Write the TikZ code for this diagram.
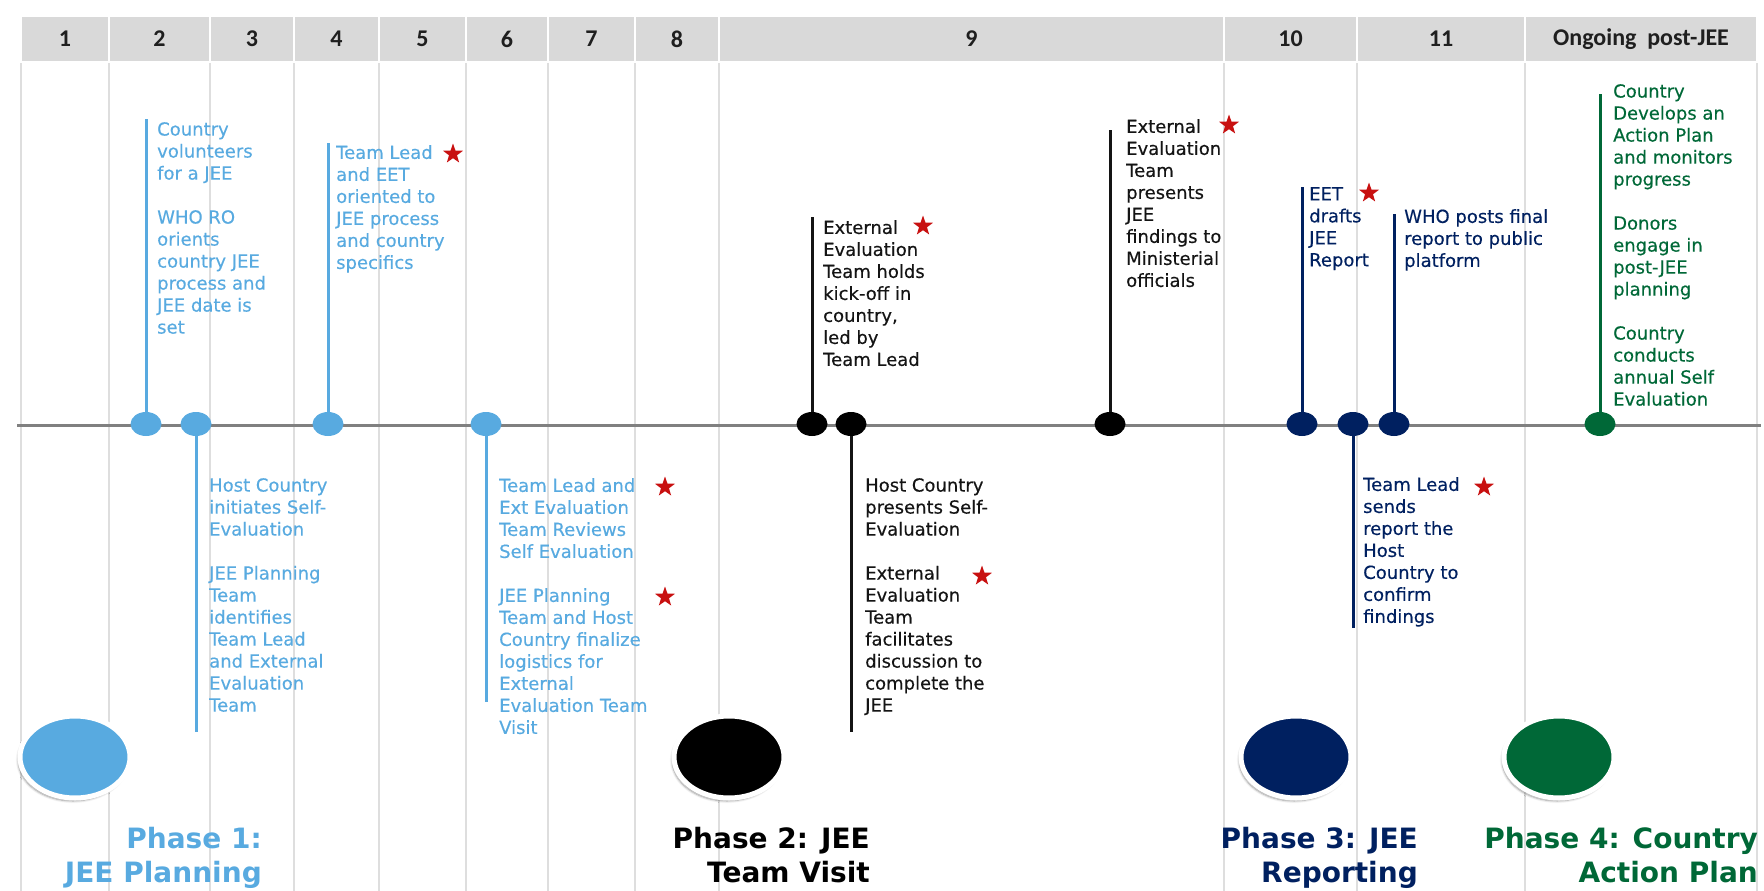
\documentclass[tikz,border=0pt]{standalone}
\usepackage{fontspec}
\setmainfont{DejaVu Sans}
\newfontfamily\hdrfont{Carlito}
\newfontfamily\notefont[FakeBold=0.35]{DejaVu Sans}
\usetikzlibrary{shapes.geometric,shadows.blur}

\definecolor{jeeLight}{RGB}{88,170,224}
\definecolor{jeeNavy}{RGB}{0,32,96}
\definecolor{jeeGreen}{RGB}{0,104,55}
\definecolor{jeeRed}{RGB}{200,16,16}
\definecolor{hdrfill}{RGB}{217,217,217}
\definecolor{gridline}{RGB}{222,222,222}
\definecolor{axisgray}{RGB}{128,128,128}
\definecolor{inkblack}{RGB}{20,20,20}

\begin{document}
\begin{tikzpicture}[x=1pt,y=-1pt,
  hdr/.style={fill=hdrfill, draw=white, line width=1.5pt, minimum height=46pt,
    inner sep=0pt, font=\hdrfont\bfseries\fontsize{24}{28}\selectfont, text=black!88},
  gridrule/.style={draw=gridline, line width=2pt},
  axisline/.style={draw=axisgray, line width=3pt},
  dot/.style={ellipse, minimum width=31pt, minimum height=24pt, inner sep=0pt, fill=#1},
  stem/.style={draw=#1, line width=3pt},
  note/.style={anchor=north west, inner sep=0pt, align=left, text=#1,
    font=\notefont\fontsize{18}{22}\selectfont},
  starmark/.style={star, star points=5, star point ratio=2.5, fill=jeeRed,
    inner sep=0pt, minimum size=21pt},
  phasedisc/.style={ellipse, minimum width=110pt, minimum height=82pt, fill=#1,
    draw=white, line width=5pt,
    blur shadow={shadow xshift=-2pt, shadow yshift=-3pt, shadow blur steps=6, shadow opacity=40}},
  phase/.style={anchor=north east, inner sep=0pt, align=right, text=#1,
    font=\bfseries\fontsize{28}{34}\selectfont},
]
\useasboundingbox (0,0) rectangle (1764,891);

% column rules of the calendar grid
\foreach \gx in {21,109,210,294,379,466,548,635,719,1224,1357,1525,1757}
  \draw[gridrule] (\gx,62) -- (\gx,891);

% header cells (weeks)
\node[hdr, minimum width=88pt]  (h1)  at (65,39)    {1};
\node[hdr, minimum width=101pt] (h2)  at (159.5,39) {2};
\node[hdr, minimum width=84pt]  (h3)  at (252,39)   {3};
\node[hdr, minimum width=85pt]  (h4)  at (336.5,39) {4};
\node[hdr, minimum width=87pt]  (h5)  at (422.5,39) {5};
\node[hdr, minimum width=82pt]  (h6)  at (507,39)   {6};
\node[hdr, minimum width=87pt]  (h7)  at (591.5,39) {7};
\node[hdr, minimum width=84pt]  (h8)  at (677,39)   {8};
\node[hdr, minimum width=505pt] (h9)  at (971.5,39) {9};
\node[hdr, minimum width=133pt] (h10) at (1290.5,39) {10};
\node[hdr, minimum width=168pt] (h11) at (1441,39)  {11};
\node[hdr, minimum width=232pt] (h12) at (1641,39)  {Ongoing\ \ post-JEE};

% timeline axis
\coordinate (tlA) at (17,425);
\coordinate (tlB) at (1761,425);
\draw[axisline] (tlA) -- (tlB);

% milestones on the axis
\node[dot=jeeLight] (d1)  at (146,424)  {};
\node[dot=jeeLight] (d2)  at (196,424)  {};
\node[dot=jeeLight] (d3)  at (328,424)  {};
\node[dot=jeeLight] (d4)  at (486,424)  {};
\node[dot=black]    (d5)  at (812,424)  {};
\node[dot=black]    (d6)  at (851,424)  {};
\node[dot=black]    (d7)  at (1110,424) {};
\node[dot=jeeNavy]  (d8)  at (1302,424) {};
\node[dot=jeeNavy]  (d9)  at (1353,424) {};
\node[dot=jeeNavy]  (d10) at (1394,424) {};
\node[dot=jeeGreen] (d11) at (1600,424) {};

% stem ends
\coordinate (s1)  at (146,119);
\coordinate (s2)  at (196,732);
\coordinate (s3)  at (328,143);
\coordinate (s4)  at (486,702);
\coordinate (s5)  at (812,217);
\coordinate (s6)  at (851,732);
\coordinate (s7)  at (1110,130);
\coordinate (s8)  at (1302,187);
\coordinate (s9)  at (1353,628);
\coordinate (s10) at (1394,214);
\coordinate (s11) at (1600,94);

\draw[stem=jeeLight] (d1) -- (s1);
\draw[stem=jeeLight] (d2) -- (s2);
\draw[stem=jeeLight] (d3) -- (s3);
\draw[stem=jeeLight] (d4) -- (s4);
\draw[stem=inkblack] (d5) -- (s5);
\draw[stem=inkblack] (d6) -- (s6);
\draw[stem=inkblack] (d7) -- (s7);
\draw[stem=jeeNavy]  (d8) -- (s8);
\draw[stem=jeeNavy]  (d9) -- (s9);
\draw[stem=jeeNavy]  (d10) -- (s10);
\draw[stem=jeeGreen] (d11) -- (s11);

% milestone descriptions
\node[note=jeeLight] (n1) at (157,122) {Country\\volunteers\\for a JEE\\[22pt]WHO RO\\orients\\country JEE\\process and\\JEE date is\\set};
\node[note=jeeLight] (n2) at (209,478) {Host Country\\initiates Self-\\Evaluation\\[22pt]JEE Planning\\Team\\identifies\\Team Lead\\and External\\Evaluation\\Team};
\node[note=jeeLight] (n3) at (336,145) {Team Lead\\and EET\\oriented to\\JEE process\\and country\\specifics};
\node[note=jeeLight] (n4) at (499,478) {Team Lead and\\Ext Evaluation\\Team Reviews\\Self Evaluation\\[22pt]JEE Planning\\Team and Host\\Country finalize\\logistics for\\External\\Evaluation Team\\Visit};
\node[note=inkblack] (n5) at (823,220) {External\\Evaluation\\Team holds\\kick-off in\\country,\\led by\\Team Lead};
\node[note=inkblack] (n6) at (865,478) {Host Country\\presents Self-\\Evaluation\\[22pt]External\\Evaluation\\Team\\facilitates\\discussion to\\complete the\\JEE};
\node[note=inkblack] (n7) at (1126,119) {External\\Evaluation\\Team\\presents\\JEE\\findings to\\Ministerial\\officials};
\node[note=jeeNavy] (n8) at (1309,187) {EET\\drafts\\JEE\\Report};
\node[note=jeeNavy] (n9) at (1363,477) {Team Lead\\sends\\report the\\Host\\Country to\\confirm\\findings};
\node[note=jeeNavy] (n10) at (1404,209) {WHO posts final\\report to public\\platform};
\node[note=jeeGreen] (n11) at (1613,84) {Country\\Develops an\\Action Plan\\and monitors\\progress\\[22pt]Donors\\engage in\\post-JEE\\planning\\[22pt]Country\\conducts\\annual Self\\Evaluation};

% red stars
\node[starmark] (st1) at (453,154)  {};
\node[starmark] (st2) at (665,487)  {};
\node[starmark] (st3) at (665,597)  {};
\node[starmark] (st4) at (923,226)  {};
\node[starmark] (st5) at (982,576)  {};
\node[starmark] (st6) at (1229,125) {};
\node[starmark] (st7) at (1369,193) {};
\node[starmark] (st8) at (1484,487) {};

% phase discs and titles
\node[phasedisc=jeeLight] (p1) at (75,757)   {};
\node[phasedisc=black]    (p2) at (729,757)  {};
\node[phasedisc=jeeNavy]  (p3) at (1296,757) {};
\node[phasedisc=jeeGreen] (p4) at (1559,757) {};

\node[phase=jeeLight] (t1) at (262,827)  {Phase 1:\\JEE Planning};
\node[phase=black]    (t2) at (870,827)  {Phase 2: JEE\\Team Visit};
\node[phase=jeeNavy]  (t3) at (1418,827) {Phase 3: JEE\\Reporting};
\node[phase=jeeGreen] (t4) at (1758,827) {Phase 4: Country\\Action Plan};
\end{tikzpicture}
\end{document}
